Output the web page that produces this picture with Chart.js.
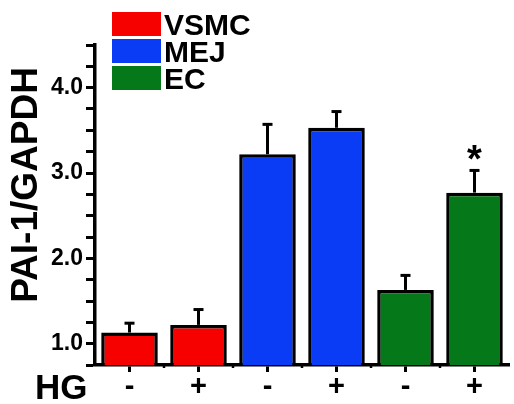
<!DOCTYPE html>
<html><head><meta charset="utf-8">
<script src="https://cdn.jsdelivr.net/npm/chart.js@4/dist/chart.umd.min.js"></script>
<style>html,body{margin:0;padding:0;background:#fff}#wrap{width:514px;height:404px}</style>
</head><body><div id="wrap"><canvas id="c" width="514" height="404"></canvas></div>
<script>
const categories = ['-', '+', '-', '+', '-', '+'];
const seriesNames = ['VSMC', 'MEJ', 'EC'];
const vsmc = [1.13, 1.22, null, null, null, null];
const mej = [null, null, 3.22, 3.53, null, null];
const ec = [null, null, null, null, 1.63, 2.77];
const vsmcErr = [0.11, 0.18, null, null, null, null];
const mejErr = [null, null, 0.35, 0.19, null, null];
const ecErr = [null, null, null, null, 0.17, 0.26];
const significant = [false, false, false, false, false, true];
const yTickLabels = ['1.0', '2.0', '3.0', '4.0'];
const yTitle = 'PAI-1/GAPDH';
const xTitle = 'HG';

const colors = ['#f70000', '#0a3cf5', '#05781a'];
const FONT = 'Arial, "Liberation Sans", sans-serif';

const errPlugin = {
  id: 'errs',
  afterDatasetsDraw(chart) {
    const ctx = chart.ctx;
    const errs = [vsmcErr, mejErr, ecErr];
    ctx.save();
    chart.data.datasets.forEach((ds, di) => {
      const meta = chart.getDatasetMeta(di);
      meta.data.forEach((bar, i) => {
        const v = ds.data[i], e = errs[di][i];
        if (v == null || e == null) return;
        const y0 = chart.scales.y.getPixelForValue(v);
        const y1 = chart.scales.y.getPixelForValue(v + e);
        ctx.strokeStyle = '#000'; ctx.lineWidth = 3;
        ctx.beginPath(); ctx.moveTo(bar.x, y0); ctx.lineTo(bar.x, y1); ctx.stroke();
        ctx.beginPath(); ctx.moveTo(bar.x - 5, y1); ctx.lineTo(bar.x + 5, y1); ctx.stroke();
        if (significant[i]) {
          ctx.fillStyle = '#000'; ctx.font = 'bold 38px ' + FONT;
          ctx.textAlign = 'center'; ctx.textBaseline = 'alphabetic';
          ctx.fillText('*', bar.x, y1 + 2);
        }
      });
    });
    // legend
    const lx = 112, ly = [12, 39, 66];
    seriesNames.forEach((n, k) => {
      ctx.fillStyle = colors[k];
      ctx.fillRect(lx, ly[k], 49, 24);
      ctx.fillStyle = '#000'; ctx.font = 'bold 30px ' + FONT;
      ctx.textAlign = 'left'; ctx.textBaseline = 'alphabetic';
      ctx.fillText(n, lx + 52, ly[k] + 23);
    });
    // HG label
    ctx.font = 'bold 35px ' + FONT; ctx.textAlign = 'left'; ctx.textBaseline = 'alphabetic';
    ctx.fillText(xTitle, 35, 399);
    // y title
    ctx.save();
    ctx.translate(37, 185); ctx.rotate(-Math.PI / 2);
    ctx.font = 'bold 37px ' + FONT; ctx.textAlign = 'center'; ctx.textBaseline = 'alphabetic';
    ctx.fillText(yTitle, 0, 0);
    ctx.restore();
    // boundary ticks on x axis
    const xs = chart.scales.x, yb = chart.chartArea.bottom;
    ctx.strokeStyle = '#000'; ctx.lineWidth = 2.5;
    for (let i = 0; i < categories.length - 1; i++) {
      const x = (xs.getPixelForValue(i) + xs.getPixelForValue(i + 1)) / 2;
      ctx.beginPath(); ctx.moveTo(x, yb); ctx.lineTo(x, yb + 3); ctx.stroke();
    }
    ctx.restore();
  }
};

new Chart(document.getElementById('c'), {
  type: 'bar',
  data: {
    labels: categories,
    datasets: [
      { label: seriesNames[0], data: vsmc, backgroundColor: colors[0] },
      { label: seriesNames[1], data: mej, backgroundColor: colors[1] },
      { label: seriesNames[2], data: ec, backgroundColor: colors[2] }
    ].map(d => Object.assign(d, { borderColor: '#000', borderWidth: 3.5, grouped: false, categoryPercentage: 1, barPercentage: 0.82, borderSkipped: 'bottom' }))
  },
  options: {
    responsive: false, animation: false,
    layout: { padding: { top: 45, right: 5, left: 0, bottom: 0 } },
    plugins: { legend: { display: false }, tooltip: { enabled: false } },
    scales: {
      x: {
        grid: { display: true, drawOnChartArea: false, offset: false, tickLength: 7, tickWidth: 3, tickColor: '#000' },
        border: { display: true, color: '#000', width: 3.5 },
        ticks: { color: '#000', font: { family: FONT, size: 29, weight: 'bold' }, padding: -2, maxRotation: 0 },
        afterFit(s) { s.height = 39; }
      },
      y: {
        min: 0.75, max: 4.5,
        grid: { display: true, drawOnChartArea: false, tickLength: 9, tickWidth: 3, tickColor: '#000' },
        border: { display: true, color: '#000', width: 3.5 },
        ticks: {
          stepSize: 0.25, autoSkip: false, color: '#000', padding: 3,
          font: { family: FONT, size: 23, weight: 'bold' },
          callback(v) { const s = v.toFixed(1); return (Math.abs(v - Math.round(v)) < 1e-9 && yTickLabels.includes(s)) ? s : ''; }
        },
        title: { display: false },
        afterFit(s) { s.width = 95; }
      }
    }
  },
  plugins: [errPlugin]
});
</script></body></html>
